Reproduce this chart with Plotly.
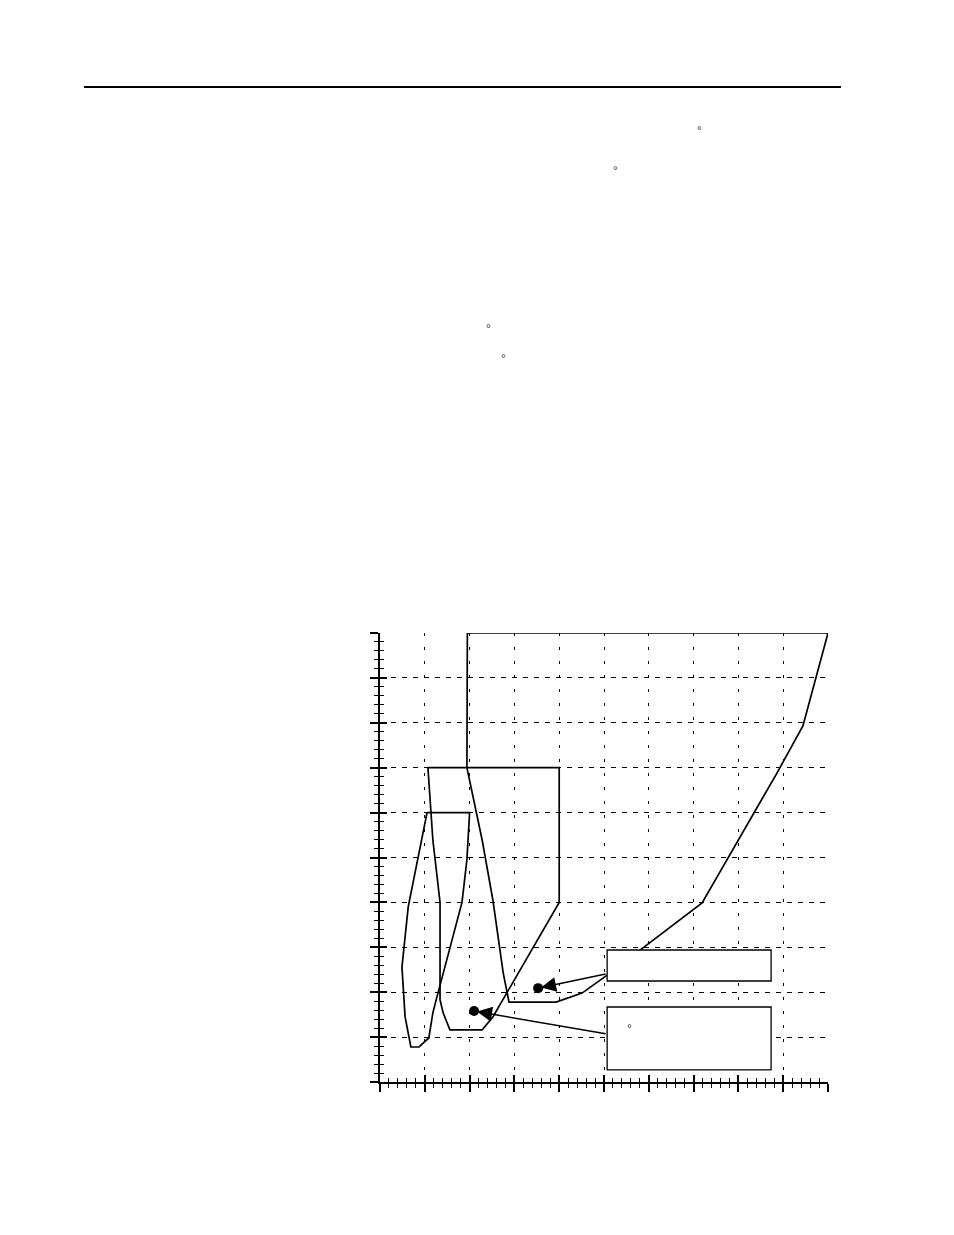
import plotly.graph_objects as go

# ---- data (chart units: x 0..10, y 0..10) ----
outer_x = [1.95, 10.0, 9.44, 8.86, 7.19, 5.80, 5.07, 4.51, 3.93, 2.88, 2.75, 2.52, 2.28, 1.94, 1.95]
outer_y = [10.0, 10.0, 7.93, 6.88, 3.99, 2.94, 2.38, 1.98, 1.78, 1.78, 2.43, 4.05, 5.39, 7.0, 10.0]

mid_x = [1.07, 4.0, 4.0, 2.52, 2.28, 1.56, 1.41, 1.34, 1.34, 1.18, 1.07]
mid_y = [7.0, 7.0, 4.0, 1.45, 1.16, 1.16, 1.54, 1.83, 4.0, 5.39, 7.0]

inner_x = [1.05, 2.0, 1.94, 1.83, 1.27, 1.18, 1.09, 0.87, 0.69, 0.56, 0.49, 0.63, 1.05]
inner_y = [6.0, 6.0, 4.95, 4.0, 1.89, 1.54, 0.98, 0.78, 0.78, 1.45, 2.56, 3.9, 6.0]

dot_x = [3.53, 2.10]
dot_y = [2.09, 1.58]

box_x0 = [5.07, 5.07]
box_x1 = [8.73, 8.73]
box_y0 = [2.25, 0.27]
box_y1 = [2.94, 1.67]

arrow_tail_x = [5.07, 5.07]
arrow_tail_y = [2.41, 1.07]

fig = go.Figure()
line = dict(color="black", width=1.7)
for xs, ys in [(outer_x, outer_y), (mid_x, mid_y), (inner_x, inner_y)]:
    fig.add_trace(go.Scatter(x=xs, y=ys, mode="lines", line=line,
                             hoverinfo="skip", showlegend=False))
fig.add_trace(go.Scatter(x=dot_x, y=dot_y, mode="markers",
                         marker=dict(color="black", size=10), showlegend=False))
# invisible trace for overlay axes
fig.add_trace(go.Scatter(x=[0], y=[0], xaxis="x2", yaxis="y2", mode="markers",
                         marker=dict(opacity=0), showlegend=False, hoverinfo="skip"))

# boxes (white filled, drawn over the polygons)
for i in range(2):
    fig.add_shape(type="rect", xref="x", yref="y",
                  x0=box_x0[i], x1=box_x1[i], y0=box_y0[i], y1=box_y1[i],
                  line=dict(color="black", width=1.3), fillcolor="white", layer="above")

# arrows from boxes to dots
for i in range(2):
    fig.add_annotation(x=dot_x[i], y=dot_y[i], ax=arrow_tail_x[i], ay=arrow_tail_y[i],
                       xref="x", yref="y", axref="x", ayref="y", text="",
                       showarrow=True, arrowhead=2, arrowsize=2.0, arrowwidth=1.5,
                       arrowcolor="black", standoff=3)

# degree signs (remnants of page text)
deg_font = dict(family="Liberation Sans", size=12, color="#333333")
for px, py in [(0.714, 2.119), (0.5246, 2.028), (0.2433, 1.676), (0.2746, 1.611)]:
    fig.add_annotation(x=px, y=py, xref="paper", yref="paper", text="°",
                       showarrow=False, font=deg_font, xanchor="center", yanchor="middle")
fig.add_annotation(x=5.56, y=1.17, xref="x", yref="y", text="°", showarrow=False,
                   font=deg_font, xanchor="center", yanchor="middle")

# header rule
fig.add_shape(type="line", xref="paper", yref="paper", x0=-0.6607, x1=1.029,
              y0=2.216, y1=2.216, line=dict(color="black", width=2.2))

grid_common = dict(range=[0, 10], dtick=1, tick0=0, showticklabels=False,
                   showline=True, linecolor="black", linewidth=2, zeroline=False)
fig.update_layout(
    width=946, height=1227,
    margin=dict(l=372, r=126, t=625, b=153),
    paper_bgcolor="white", plot_bgcolor="white",
    showlegend=False,
    xaxis=dict(**grid_common, showgrid=True, gridcolor="black", gridwidth=1,
               griddash="3px,11px", ticks="outside", ticklen=8, tickwidth=2,
               tickcolor="black",
               minor=dict(dtick=0.2, ticks="outside", ticklen=4, tickwidth=1,
                          tickcolor="black", showgrid=False)),
    yaxis=dict(**grid_common, showgrid=True, gridcolor="black", gridwidth=1,
               griddash="5px,6px", ticks="outside", ticklen=8, tickwidth=2,
               tickcolor="black",
               minor=dict(dtick=0.2, ticks="outside", ticklen=4, tickwidth=1,
                          tickcolor="black", showgrid=False)),
    xaxis2=dict(**grid_common, overlaying="x", anchor="y2", side="bottom",
                showgrid=False, ticks="inside", ticklen=7, tickwidth=2, tickcolor="black",
                minor=dict(dtick=0.2, ticks="inside", ticklen=4, tickwidth=1,
                           tickcolor="black", showgrid=False)),
    yaxis2=dict(**grid_common, overlaying="y", anchor="x2", side="left",
                showgrid=False, ticks="inside", ticklen=7, tickwidth=2, tickcolor="black",
                minor=dict(dtick=0.2, ticks="inside", ticklen=4, tickwidth=1,
                           tickcolor="black", showgrid=False)),
)

fig.write_html("out.html")
